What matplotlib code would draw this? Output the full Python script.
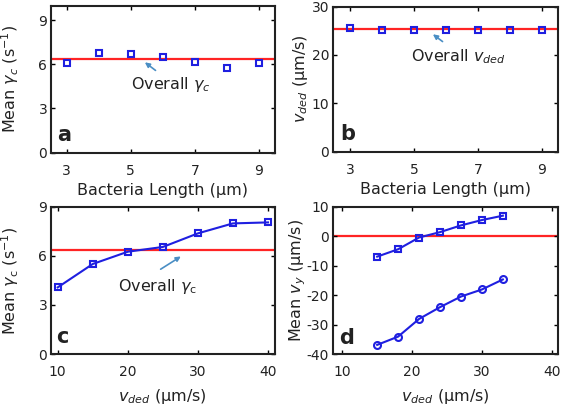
import matplotlib
matplotlib.use("Agg")
import matplotlib.pyplot as plt

plt.rcParams['font.family'] = ['DejaVu Sans']
plt.rcParams['mathtext.fontset'] = 'dejavusans'
plt.rcParams['axes.unicode_minus'] = False

# Data
length = [3, 4, 5, 6, 7, 8, 9]
gamma_len = [6.07, 6.78, 6.67, 6.51, 6.13, 5.77, 6.09]
vded_len = [25.6, 25.2, 25.2, 25.2, 25.2, 25.2, 25.2]
overall_gamma = 6.35
overall_vded = 25.4

vded_c = [10, 15, 20, 25, 30, 35, 40]
gamma_c = [4.07, 5.5, 6.25, 6.54, 7.37, 7.98, 8.04]

vded_d = [15, 18, 21, 24, 27, 30, 33]
vy_sq = [-6.95, -4.44, -0.46, 1.37, 3.65, 5.47, 6.95]
vy_circ = [-36.9, -34.1, -28.1, -24.1, -20.5, -18.1, -14.7]

W, H = 561, 407
fig = plt.figure(figsize=(W / 100, H / 100), dpi=100)

def ax_px(l, r, t, b):
    return fig.add_axes([l / W, (H - b) / H, (r - l) / W, (b - t) / H])

axa = ax_px(50.7, 275, 5.5, 152.5)
axb = ax_px(332.5, 558, 6.5, 151.5)
axc = ax_px(50.7, 275, 206.7, 354)
axd = ax_px(332.5, 558, 206.7, 354)

BLUE = '#1f1fe0'
RED = '#ff2424'
ARROW = '#4a8ec4'
TXT = '#222222'
FS = 11.5
TFS = 10

for ax in (axa, axb, axc, axd):
    for s in ax.spines.values():
        s.set_linewidth(1.5)
        s.set_color('#222222')
    ax.tick_params(direction='in', top=True, right=True, length=3, width=1,
                   labelsize=TFS, labelcolor=TXT)
    ax.tick_params(axis='x', pad=8)
    ax.tick_params(axis='y', pad=2.5)

def place_labels(ax, yx, xy):
    ax.yaxis.set_label_coords(yx, 0.5)
    ax.yaxis.label.set_verticalalignment('center')
    ax.xaxis.set_label_coords(0.5, xy)
    ax.xaxis.label.set_verticalalignment('center')

# a
axa.axhline(overall_gamma, color=RED, lw=1.6, zorder=1)
axa.plot(length, gamma_len, 's', mfc='none', mec=BLUE, ms=5, mew=1.5, zorder=2)
axa.set_xlim(2.5, 9.5)
axa.set_ylim(0, 10)
axa.set_xticks([3, 5, 7, 9])
axa.set_yticks([0, 3, 6, 9])
axa.set_xlabel('Bacteria Length (μm)', fontsize=FS, color=TXT)
axa.set_ylabel(r'Mean $\gamma_c$ (s$^{-1}$)', fontsize=FS, color=TXT)
place_labels(axa, -0.18, -0.256)
axa.annotate('', xy=(5.37, 6.25), xytext=(5.84, 5.47),
             arrowprops=dict(arrowstyle='-|>', color=ARROW, lw=1.2, mutation_scale=7))
axa.text(5.0, 4.6, r'Overall $\gamma_c$', fontsize=FS, color=TXT, va='center', ha='left')
axa.text(2.7, 0.5, 'a', fontsize=15, fontweight='bold', color=TXT, va='bottom')

# b
axb.axhline(overall_vded, color=RED, lw=1.6, zorder=1)
axb.plot(length, vded_len, 's', mfc='none', mec=BLUE, ms=5, mew=1.5, zorder=2)
axb.set_xlim(2.45, 9.5)
axb.set_ylim(0, 30)
axb.set_xticks([3, 5, 7, 9])
axb.set_yticks([0, 10, 20, 30])
axb.set_xlabel('Bacteria Length (μm)', fontsize=FS, color=TXT)
axb.set_ylabel(r'$v_{ded}$ (μm/s)', fontsize=FS, color=TXT)
place_labels(axb, -0.143, -0.26)
axb.annotate('', xy=(5.52, 24.6), xytext=(5.96, 22.4),
             arrowprops=dict(arrowstyle='-|>', color=ARROW, lw=1.2, mutation_scale=7))
axb.text(4.9, 19.6, r'Overall $v_{ded}$', fontsize=FS, color=TXT, va='center', ha='left')
axb.text(2.68, 1.5, 'b', fontsize=15, fontweight='bold', color=TXT, va='bottom')

# c
axc.axhline(overall_gamma, color=RED, lw=1.6, zorder=1)
axc.plot(vded_c, gamma_c, '-s', color=BLUE, mfc='none', mec=BLUE, ms=5, mew=1.5, lw=1.5, zorder=2)
axc.set_xlim(9, 41)
axc.set_ylim(0, 9)
axc.set_xticks([10, 20, 30, 40])
axc.set_yticks([0, 3, 6, 9])
axc.set_xlabel(r'$v_{ded}$ (μm/s)', fontsize=FS, color=TXT)
axc.set_ylabel(r'Mean $\gamma_{\rm c}$ (s$^{-1}$)', fontsize=FS, color=TXT)
place_labels(axc, -0.18, -0.29)
axc.annotate('', xy=(27.9, 6.05), xytext=(24.35, 5.09),
             arrowprops=dict(arrowstyle='-|>', color=ARROW, lw=1.2, mutation_scale=7))
axc.text(18.6, 4.1, r'Overall $\gamma_{\rm c}$', fontsize=FS, color=TXT, va='center', ha='left')
axc.text(9.8, 0.4, 'c', fontsize=15, fontweight='bold', color=TXT, va='bottom')

# d
axd.axhline(0, color=RED, lw=1.6, zorder=1)
axd.plot(vded_d, vy_sq, '-s', color=BLUE, mfc='none', mec=BLUE, ms=5, mew=1.5, lw=1.5, zorder=2)
axd.plot(vded_d, vy_circ, '-o', color=BLUE, mfc='none', mec=BLUE, ms=5, mew=1.5, lw=1.5, zorder=2)
axd.set_xlim(8.6, 40.9)
axd.set_ylim(-40, 10)
axd.set_xticks([10, 20, 30, 40])
axd.set_yticks([-40, -30, -20, -10, 0, 10])
axd.set_xlabel(r'$v_{ded}$ (μm/s)', fontsize=FS, color=TXT)
axd.set_ylabel(r'Mean $v_y$ (μm/s)', fontsize=FS, color=TXT)
place_labels(axd, -0.155, -0.29)
axd.text(9.5, -38, 'd', fontsize=15, fontweight='bold', color=TXT, va='bottom')

fig.savefig('out.png', dpi=100)
